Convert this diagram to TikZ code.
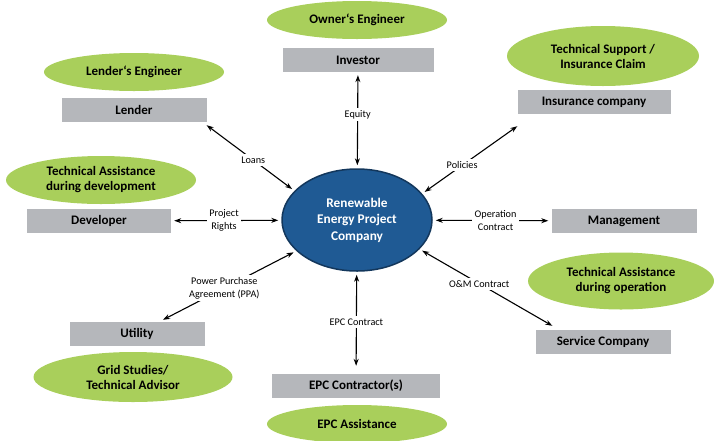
\documentclass[tikz,border=0pt]{standalone}
\usepackage{fontspec}
\setmainfont{Carlito}
\usepackage{tikz}
\usetikzlibrary{positioning,arrows.meta,shapes.geometric,calc}
\definecolor{leaf}{HTML}{A9CF5B}
\definecolor{slab}{HTML}{B5B7BB}
\definecolor{core}{HTML}{1F5A94}
\definecolor{coreline}{HTML}{13375C}

\begin{document}
\begin{tikzpicture}[x=1pt,y=-1pt,every node/.style={font=\fontsize{13}{15}\selectfont\bfseries},
                    >={Stealth[length=7pt,width=5pt]}]
    \tikzstyle{org}=[fill=slab,minimum width=145pt,minimum height=24pt,inner sep=0pt];
    \tikzstyle{tip}=[ellipse,fill=leaf,minimum width=180pt,minimum height=38pt,inner sep=0pt,align=center];
    \tikzstyle{lbl}=[font=\fontsize{10.2}{12.8}\selectfont,fill=white,inner sep=2.5pt,align=center];
    \tikzstyle{link}=[<->,line width=1.1pt,shorten <=3pt,shorten >=3pt];
    \useasboundingbox (0,0) rectangle (714,440);

    \node[ellipse,fill=core,draw=coreline,line width=1.5pt,text=white,minimum width=150pt,
          minimum height=102pt,inner sep=0pt,align=center,font=\fontsize{13.3}{16.5}\selectfont\bfseries]
          (rep) at (357,220) {Renewable\\Energy Project\\Company};

    \node[tip]   (own)   at (357,20)  {Owner`s Engineer};
    \node[org,minimum width=151pt] (inv) at (358,60) {Investor};
    \node[tip]   (leng)  at (134,72)  {Lender`s Engineer};
    \node[org]   (lend)  at (134,110) {Lender};
    \node[tip,minimum width=192pt,minimum height=60pt] (tsup) at (603,56) {Technical Support /\\Insurance Claim};
    \node[org,minimum width=153pt] (ins) at (594,102) {Insurance company};
    \node[tip,minimum width=190pt,minimum height=48pt] (tadev) at (101,180) {Technical Assistance\\during development};
    \node[org,minimum width=144pt] (dev) at (99,221) {Developer};
    \node[org]   (mgmt)  at (624,221) {Management};
    \node[tip,minimum width=186pt,minimum height=57pt] (taop) at (621,281) {Technical Assistance\\during operation};
    \node[org,minimum width=135pt] (srv) at (603,342) {Service Company};
    \node[org,minimum width=135pt] (util) at (137,334) {Utility};
    \node[tip,minimum width=199pt,minimum height=50pt] (grid) at (133,377) {Grid Studies/\\Technical Advisor};
    \node[org,minimum width=168pt] (epc) at (356,386) {EPC Contractor(s)};
    \node[tip]   (epca)  at (357,424) {EPC Assistance};

    \draw[link] (inv) -- node[lbl,pos=0.44]{Equity} (rep);
    \draw[link,shorten <=0pt] ($(lend.south east)+(0,3)$) -- node[lbl,pos=0.53]{Loans} (rep.155);
    \draw[link,shorten <=0pt] ($(ins.south west)+(0,12)$) -- node[lbl,pos=0.58]{Policies} (rep.22);
    \draw[link] (dev) -- node[lbl,pos=0.48]{Project\\Rights} (rep);
    \draw[link] (rep) -- node[lbl,pos=0.53]{Operation\\Contract} (mgmt);
    \draw[link,shorten >=0pt] (rep.207) -- node[lbl,pos=0.54]{Power Purchase\\Agreement (PPA)} ($(util.north)+(26,-2)$);
    \draw[link,shorten >=0pt] (rep.335) -- node[lbl,pos=0.45]{O\&M Contract} ($(srv.north west)+(17,-4)$);
    \draw[link,shorten >=8pt] (rep) -- node[lbl,pos=0.49]{EPC Contract} (epc);
  \end{tikzpicture}
\end{document}
